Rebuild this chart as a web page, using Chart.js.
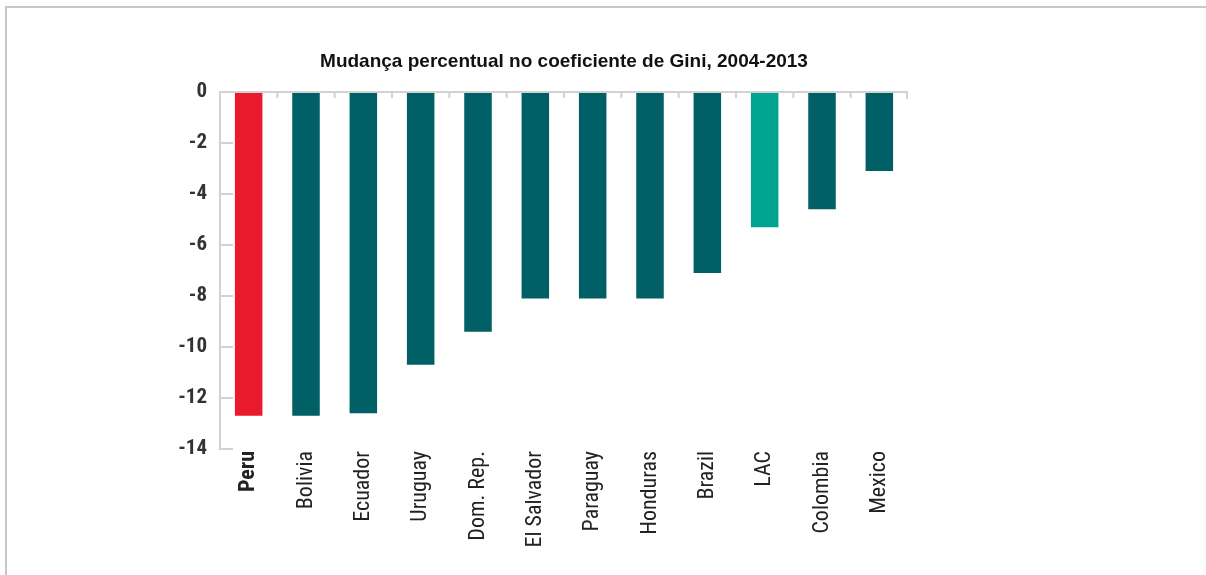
<!DOCTYPE html>
<html>
<head>
<meta charset="utf-8">
<script src="https://cdn.jsdelivr.net/npm/chart.js@4/dist/chart.umd.min.js"></script>
<style>
  html, body { margin: 0; padding: 0; background: #fff; }
  #wrap { position: relative; width: 1206px; height: 575px; overflow: hidden; }
  #frame { position: absolute; left: 5px; top: 6px; width: 1300px; height: 700px;
           border-left: 2px solid #c8c8c8; border-top: 2px solid #c8c8c8; pointer-events: none; }
  canvas { display: block; }
</style>
</head>
<body>
<div id="wrap">
  <canvas id="c" width="1206" height="575"></canvas>
  <div id="frame"></div>
</div>
<script>
const titleText = 'Mudança percentual no coeficiente de Gini, 2004-2013';
const categories = ['Peru', 'Bolivia', 'Ecuador', 'Uruguay', 'Dom. Rep.', 'El Salvador', 'Paraguay', 'Honduras', 'Brazil', 'LAC', 'Colombia', 'Mexico'];
const giniChange = [-12.7, -12.7, -12.6, -10.7, -9.4, -8.1, -8.1, -8.1, -7.1, -5.3, -4.6, -3.1];
const yTickLimits = [-14, 0];
const yTickStep = 2;

const COL_RED = '#ea1a2d';
const COL_TEAL = '#015f66';
const COL_LAC = '#00a591';
const AXIS_COL = '#d2d2d2';

const barColors = categories.map(c => c === 'Peru' ? COL_RED : (c === 'LAC' ? COL_LAC : COL_TEAL));

const axisPlugin = {
  id: 'customAxes',
  afterDatasetsDraw(chart) {
    const { ctx, chartArea, scales } = chart;
    const x = scales.x, y = scales.y;
    const left = chartArea.left, right = chartArea.right;
    const y0 = y.getPixelForValue(0);
    const yMin = y.getPixelForValue(yTickLimits[0]);
    ctx.save();
    ctx.strokeStyle = AXIS_COL;
    ctx.lineWidth = 2;
    ctx.lineCap = 'butt';
    ctx.beginPath();
    ctx.moveTo(left, y0 - 1);
    ctx.lineTo(left, yMin + 1);
    ctx.stroke();
    ctx.beginPath();
    ctx.moveTo(left, y0);
    ctx.lineTo(right, y0);
    ctx.stroke();
    y.ticks.forEach(t => {
      if (t.value === 0) return;
      const py = y.getPixelForValue(t.value);
      ctx.beginPath();
      ctx.moveTo(left, py);
      ctx.lineTo(left + 13, py);
      ctx.stroke();
    });
    for (let i = 0; i < categories.length - 1; i++) {
      const px = (x.getPixelForTick(i) + x.getPixelForTick(i + 1)) / 2;
      ctx.beginPath();
      ctx.moveTo(px, y0);
      ctx.lineTo(px, y0 + 6);
      ctx.stroke();
    }
    ctx.beginPath();
    ctx.moveTo(right - 1, y0);
    ctx.lineTo(right - 1, y0 + 7);
    ctx.stroke();
    ctx.restore();
  }
};

new Chart(document.getElementById('c'), {
  type: 'bar',
  data: {
    labels: categories,
    datasets: [{
      data: giniChange,
      backgroundColor: barColors,
      borderWidth: 0,
      barPercentage: 0.48,
      categoryPercentage: 1.0
    }]
  },
  options: {
    responsive: false,
    animation: false,
    devicePixelRatio: 1,
    layout: { padding: { left: 0, right: 298, top: 0, bottom: 0 } },
    plugins: {
      legend: { display: false },
      tooltip: { enabled: false },
      title: {
        display: true,
        text: titleText,
        fullSize: false,
        color: '#111',
        font: { family: '"Liberation Sans", Arial, sans-serif', size: 19, weight: 'bold', lineHeight: 1.2 },
        padding: { top: 50, bottom: 19.2 }
      }
    },
    scales: {
      x: {
        grid: { display: false, drawTicks: false },
        border: { display: false },
        ticks: {
          autoSkip: false,
          minRotation: 90,
          maxRotation: 90,
          padding: 2,
          color: '#222',
          font: (ctx) => ({
            family: '"Roboto Condensed", Roboto, sans-serif',
            size: 22,
            weight: ctx.index === 0 ? 'bold' : 'normal'
          })
        },
        afterFit(scale) { scale.height = 126; }
      },
      y: {
        min: yTickLimits[0],
        max: yTickLimits[1],
        grid: { display: false, drawTicks: false },
        border: { display: false },
        ticks: {
          stepSize: yTickStep,
          padding: 13,
          color: '#333',
          font: { family: '"Roboto Condensed", Roboto, sans-serif', size: 21, weight: 'bold' }
        },
        afterFit(scale) { scale.width = 220; }
      }
    }
  },
  plugins: [axisPlugin]
});
</script>
</body>
</html>
